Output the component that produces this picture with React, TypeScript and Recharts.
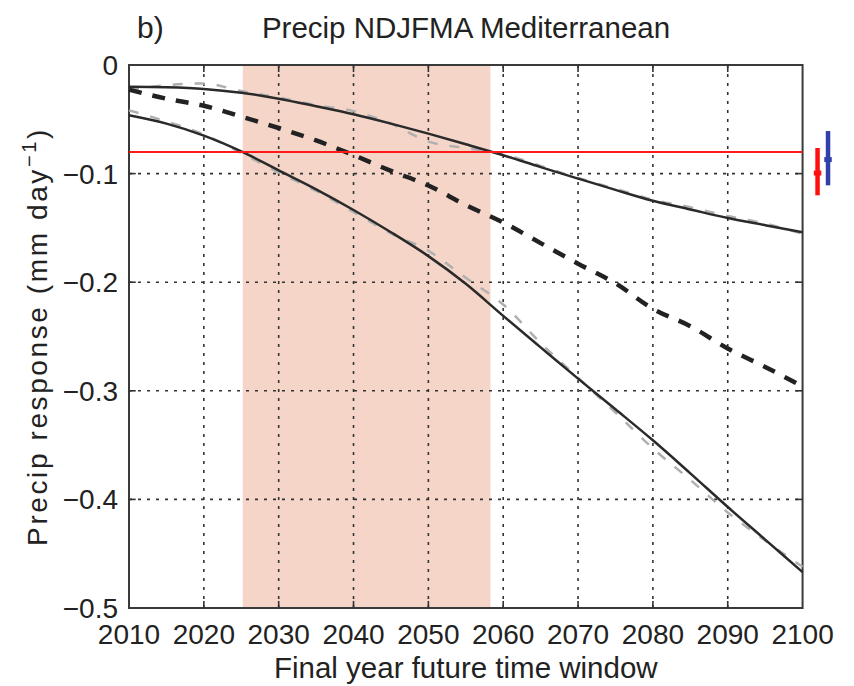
import React from 'react';
import { LineChart, Line, XAxis, YAxis, ReferenceArea, ReferenceLine, Label } from 'recharts';

// Final year of the future time window
const years = [2010, 2015, 2020, 2025, 2030, 2035, 2040, 2045, 2050, 2055, 2060, 2065, 2070, 2075, 2080, 2085, 2090, 2095, 2100];

// Smoothed bounds and median response (mm/day)
const upper = [-0.02, -0.0205, -0.022, -0.0255, -0.031, -0.038, -0.0454, -0.054, -0.0632, -0.073, -0.0831, -0.094, -0.1046, -0.115, -0.125, -0.133, -0.1409, -0.1475, -0.154];
const median = [-0.0227, -0.031, -0.0375, -0.0475, -0.058, -0.0695, -0.083, -0.0975, -0.111, -0.129, -0.145, -0.164, -0.183, -0.201, -0.2245, -0.2405, -0.261, -0.278, -0.296];
const lower = [-0.0463, -0.054, -0.065, -0.0795, -0.097, -0.1145, -0.1335, -0.154, -0.176, -0.2015, -0.231, -0.26, -0.2888, -0.317, -0.3456, -0.376, -0.407, -0.437, -0.467];

// Raw (unsmoothed) bounds
const upperRaw = [-0.023, -0.0187, -0.017, -0.024, -0.03, -0.037, -0.0425, -0.054, -0.0705, -0.0765, -0.082, -0.093, -0.104, -0.114, -0.124, -0.131, -0.139, -0.146, -0.1555];
const lowerRaw = [-0.0417, -0.052, -0.064, -0.081, -0.099, -0.116, -0.1355, -0.155, -0.171, -0.196, -0.2205, -0.256, -0.288, -0.32, -0.353, -0.382, -0.412, -0.438, -0.462];

// Detection threshold and the window where it is crossed
const threshold = -0.08;
const windowStart = 2025.2;
const windowEnd = 2058.3;

// Observed-range bars drawn to the right of the axes
const barYears = [2102, 2103.4];
const barCenters = [-0.0995, -0.0871];
const barLows = [-0.12, -0.1108];
const barHighs = [-0.0764, -0.0608];
const barColors = ['#ff1010', '#3040a8'];

const xTicks = [2010, 2020, 2030, 2040, 2050, 2060, 2070, 2080, 2090, 2100];
const yTicks = [0, -0.1, -0.2, -0.3, -0.4, -0.5];

const X_MIN = 2010;
const X_MAX = 2100;
const X_AXIS_END = 2105; // room for the range bars
const Y_MIN = -0.5;
const Y_MAX = 0;

const data = years.map((year, i) => ({
  year,
  upper: upper[i],
  median: median[i],
  lower: lower[i],
  upperRaw: upperRaw[i],
  lowerRaw: lowerRaw[i],
}));

const FONT = '"Liberation Sans", Arial, Helvetica, sans-serif';
const gridStyle = { stroke: '#333', strokeWidth: 1.6, strokeDasharray: '3 6' };

const fmtY = (v: number) => (v === 0 ? '0' : '\u2212' + Math.abs(v).toFixed(1));

const YTitle = (props: any) => {
  const { viewBox } = props;
  const cx = 39;
  const cy = viewBox.y + viewBox.height / 2;
  return (
    <text x={cx} y={cy} transform={`rotate(-90, ${cx}, ${cy})`} textAnchor="middle" fontSize={28} fill="#222" fontFamily={FONT} letterSpacing={2.6}>
      Precip response (mm day
      <tspan dy={-11} fontSize={20}>{'\u2212'}1</tspan>
      <tspan dy={11}>)</tspan>
    </text>
  );
};

const XTitle = (props: any) => {
  const { viewBox } = props;
  // centre under the 2010-2100 span, not the whole (extended) axis
  const cx = viewBox.x + (viewBox.width * ((X_MIN + X_MAX) / 2 - X_MIN)) / (X_AXIS_END - X_MIN);
  return (
    <text x={cx} y={670} textAnchor="middle" fontSize={29.5} fill="#222" fontFamily={FONT}>
      Final year future time window
    </text>
  );
};

export default function App() {
  const tickLenY = 0.0065;
  const tickLenX = 0.9;
  return (
    <div style={{ position: 'relative', width: 846, height: 678, fontFamily: FONT, color: '#222' }}>
      <div style={{ position: 'absolute', left: 129, top: 5, fontSize: 30, lineHeight: '30px' }}>b)</div>
      <div style={{ position: 'absolute', left: 121, width: 674, top: 5, fontSize: 29.5, lineHeight: '30px', textAlign: 'center' }}>
        Precip NDJFMA Mediterranean
      </div>
      <LineChart width={846} height={678} data={data} margin={{ top: 57, right: 14, bottom: 0, left: 0 }}>
        <XAxis
          dataKey="year"
          type="number"
          domain={[X_MIN, X_AXIS_END]}
          ticks={xTicks}
          interval={0}
          axisLine={false}
          tickLine={false}
          tickMargin={10}
          height={78}
          tick={{ fontSize: 28, fill: '#222', fontFamily: FONT }}
        >
          <Label content={XTitle} />
        </XAxis>
        <YAxis
          type="number"
          domain={[Y_MIN, Y_MAX]}
          ticks={yTicks}
          interval={0}
          axisLine={false}
          tickLine={false}
          tickMargin={5}
          width={121}
          tickFormatter={fmtY}
          tick={{ fontSize: 28, fill: '#222', fontFamily: FONT }}
        >
          <Label content={YTitle} />
        </YAxis>

        <ReferenceArea x1={windowStart} x2={windowEnd} y1={Y_MIN} y2={Y_MAX} fill="#f4d5c8" fillOpacity={1} stroke="none" />

        {xTicks.slice(1, -1).map((t) => (
          <ReferenceLine key={'vx' + t} segment={[{ x: t, y: Y_MIN }, { x: t, y: Y_MAX }]} {...gridStyle} />
        ))}
        {yTicks.slice(1, -1).map((t) => (
          <ReferenceLine key={'hy' + t} segment={[{ x: X_MIN, y: t }, { x: X_MAX, y: t }]} {...gridStyle} />
        ))}
        {xTicks.slice(1, -1).map((t) => (
          <ReferenceLine key={'tb' + t} segment={[{ x: t, y: Y_MIN }, { x: t, y: Y_MIN + tickLenY }]} stroke="#333" strokeWidth={1.6} />
        ))}
        {xTicks.slice(1, -1).map((t) => (
          <ReferenceLine key={'tt' + t} segment={[{ x: t, y: Y_MAX }, { x: t, y: Y_MAX - tickLenY }]} stroke="#333" strokeWidth={1.6} />
        ))}
        {yTicks.slice(1, -1).map((t) => (
          <ReferenceLine key={'tl' + t} segment={[{ x: X_MIN, y: t }, { x: X_MIN + tickLenX, y: t }]} stroke="#333" strokeWidth={1.6} />
        ))}
        {yTicks.slice(1, -1).map((t) => (
          <ReferenceLine key={'tr' + t} segment={[{ x: X_MAX, y: t }, { x: X_MAX - tickLenX, y: t }]} stroke="#333" strokeWidth={1.6} />
        ))}

        <Line type="monotone" dataKey="upperRaw" stroke="#b0b0b0" strokeWidth={2.5} strokeDasharray="10 12" dot={false} isAnimationActive={false} />
        <Line type="monotone" dataKey="lowerRaw" stroke="#b0b0b0" strokeWidth={2.5} strokeDasharray="10 12" dot={false} isAnimationActive={false} />
        <Line type="monotone" dataKey="upper" stroke="#2a2a2a" strokeWidth={2.5} dot={false} isAnimationActive={false} />
        <Line type="monotone" dataKey="lower" stroke="#2a2a2a" strokeWidth={2.5} dot={false} isAnimationActive={false} />
        <Line type="monotone" dataKey="median" stroke="#222" strokeWidth={4.5} strokeDasharray="13 11" dot={false} isAnimationActive={false} />

        <ReferenceLine segment={[{ x: X_MIN, y: threshold }, { x: X_MAX, y: threshold }]} stroke="#ff1a1a" strokeWidth={2} />

        <ReferenceArea x1={X_MIN} x2={X_MAX} y1={Y_MIN} y2={Y_MAX} fill="none" stroke="#3a3a3a" strokeWidth={2} />

        {barYears.map((yr, i) => (
          <ReferenceLine key={'bar' + i} segment={[{ x: yr, y: barLows[i] }, { x: yr, y: barHighs[i] }]} stroke={barColors[i]} strokeWidth={4.5} ifOverflow="visible" />
        ))}
        {barYears.map((yr, i) => (
          <ReferenceLine key={'mid' + i} segment={[{ x: yr - 0.5, y: barCenters[i] }, { x: yr + 0.5, y: barCenters[i] }]} stroke={barColors[i]} strokeWidth={5} ifOverflow="visible" />
        ))}
      </LineChart>
    </div>
  );
}
